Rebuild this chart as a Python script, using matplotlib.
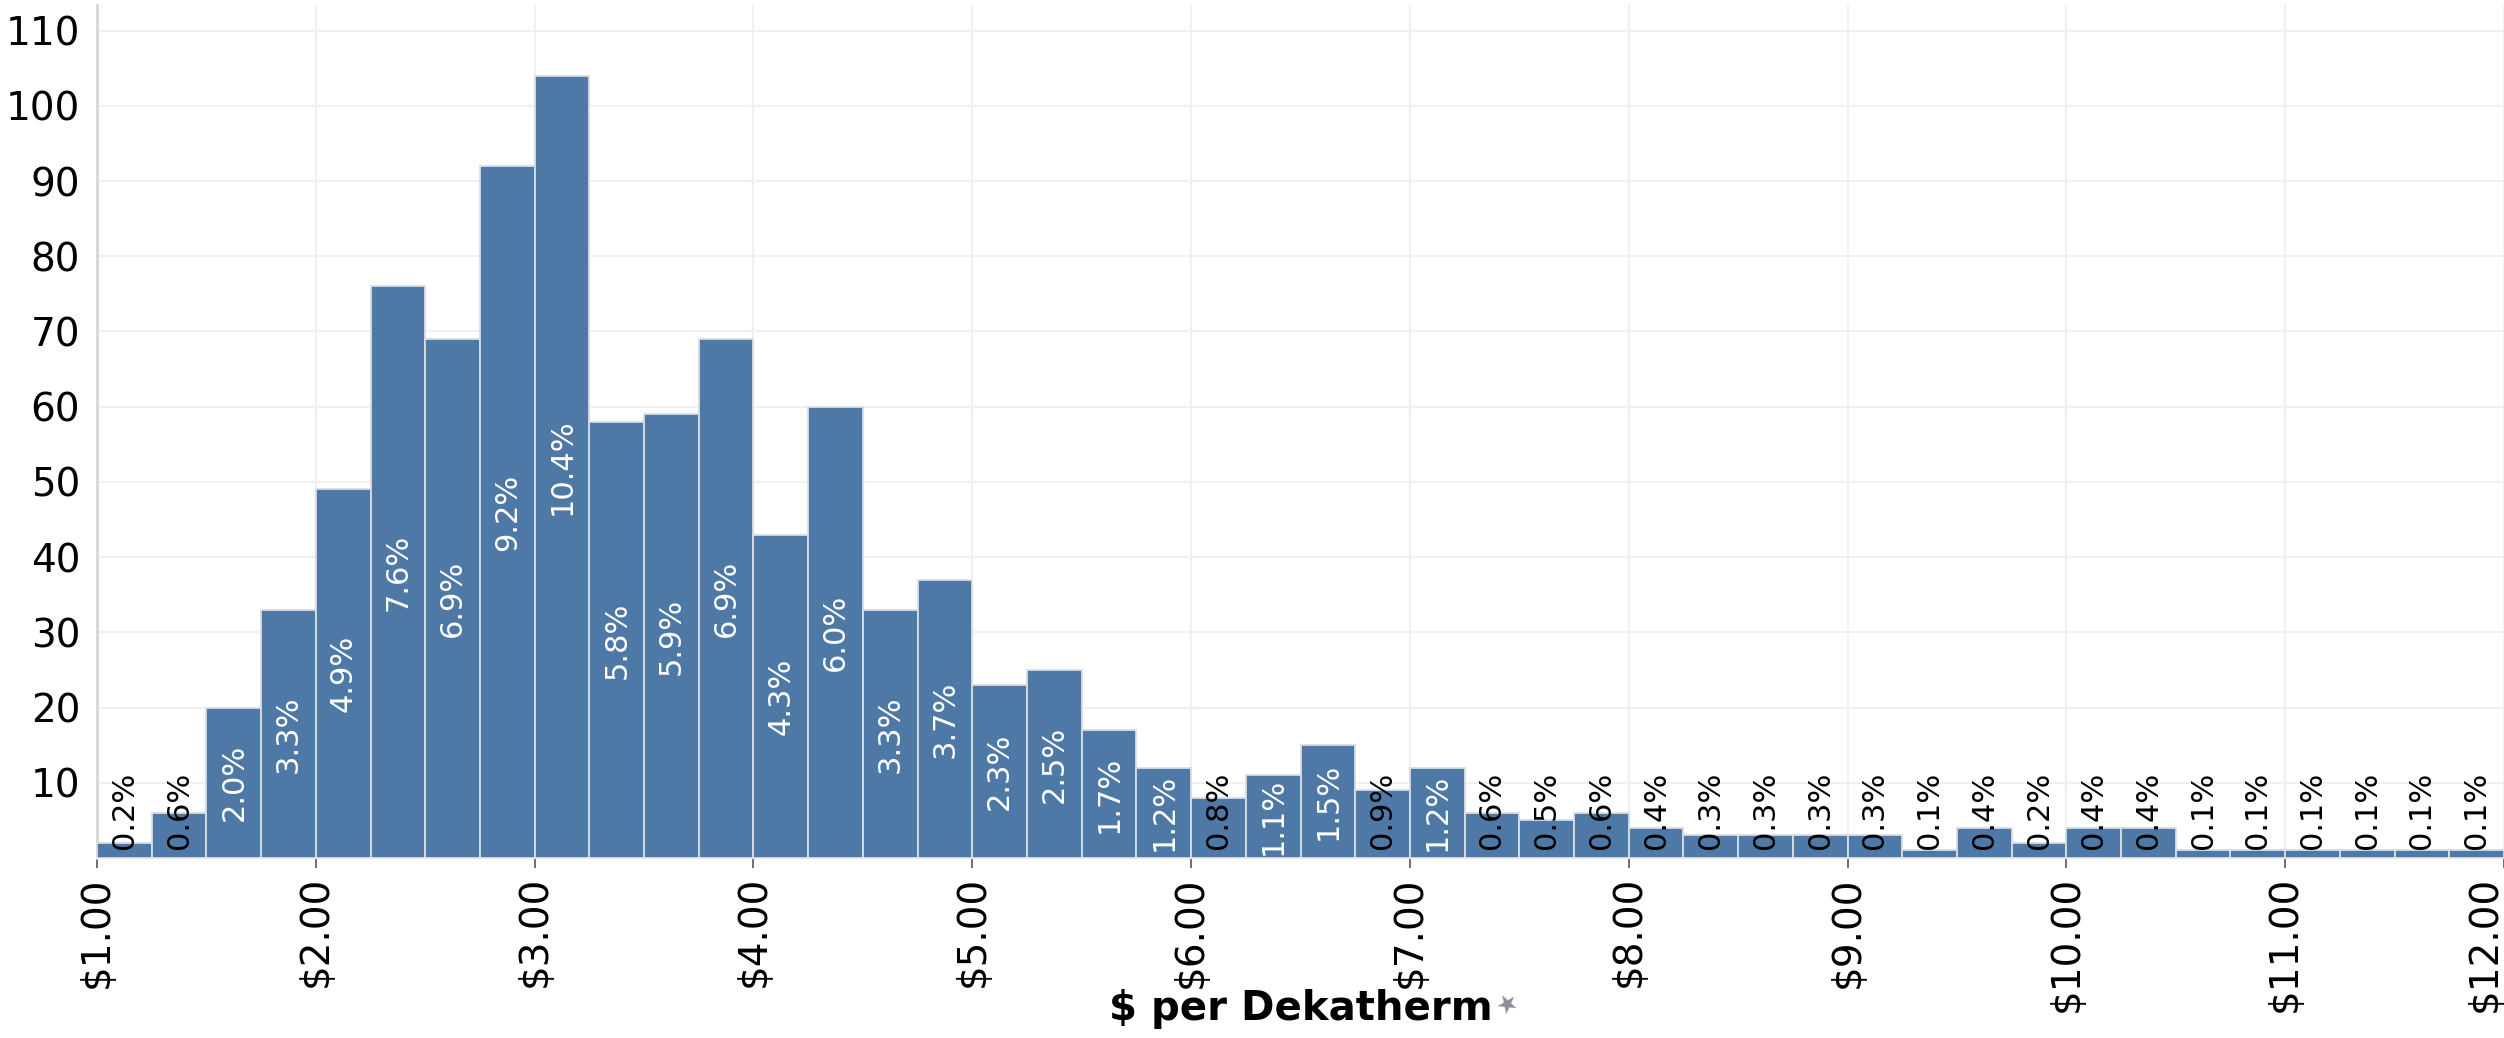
import matplotlib
matplotlib.use("Agg")
import matplotlib.pyplot as plt

# ---- data ----
bin_starts = [1.00, 1.25, 1.50, 1.75, 2.00, 2.25, 2.50, 2.75, 3.00, 3.25, 3.50, 3.75,
              4.00, 4.25, 4.50, 4.75, 5.00, 5.25, 5.50, 5.75, 6.00, 6.25, 6.50, 6.75,
              7.00, 7.25, 7.50, 7.75, 8.00, 8.25, 8.50, 8.75, 9.00, 9.25, 9.50, 9.75,
              10.00, 10.25, 10.50, 10.75, 11.00, 11.25, 11.50, 11.75]
counts = [2, 6, 20, 33, 49, 76, 69, 92, 104, 58, 59, 69,
          43, 60, 33, 37, 23, 25, 17, 12, 8, 11, 15, 9,
          12, 6, 5, 6, 4, 3, 3, 3, 3, 1, 4, 2,
          4, 4, 1, 1, 1, 1, 1, 1]
pct_labels = ["0.2%", "0.6%", "2.0%", "3.3%", "4.9%", "7.6%", "6.9%", "9.2%", "10.4%", "5.8%", "5.9%", "6.9%",
              "4.3%", "6.0%", "3.3%", "3.7%", "2.3%", "2.5%", "1.7%", "1.2%", "0.8%", "1.1%", "1.5%", "0.9%",
              "1.2%", "0.6%", "0.5%", "0.6%", "0.4%", "0.3%", "0.3%", "0.3%", "0.3%", "0.1%", "0.4%", "0.2%",
              "0.4%", "0.4%", "0.1%", "0.1%", "0.1%", "0.1%", "0.1%", "0.1%"]
bin_width = 0.25
x_ticks = [1, 2, 3, 4, 5, 6, 7, 8, 9, 10, 11, 12]
x_tick_labels = ["$1.00", "$2.00", "$3.00", "$4.00", "$5.00", "$6.00",
                 "$7.00", "$8.00", "$9.00", "$10.00", "$11.00", "$12.00"]
y_ticks = [10, 20, 30, 40, 50, 60, 70, 80, 90, 100, 110]
x_title = "$ per Dekatherm"

# ---- figure ----
W, H = 2504, 1038
fig = plt.figure(figsize=(W / 100, H / 100), dpi=100)
plt.rcParams['font.family'] = ['DejaVu Sans']
left_px, right_px, top_px, base_px = 97, 2504, 5, 858
ax = fig.add_axes([left_px / W, (H - base_px) / H, (right_px - left_px) / W, (base_px - top_px) / H])

bar_color = '#4e79a7'
ax.bar(bin_starts, counts, width=bin_width, align='edge', color=bar_color,
       edgecolor='#d9dde3', linewidth=1.3, zorder=3)

ax.set_xlim(1.0, 12.0)
ax.set_ylim(0, 113.4)

ax.set_axisbelow(True)
ax.set_xticks(x_ticks)
ax.set_xticklabels(x_tick_labels, rotation=90, fontsize=28, va='top', ha='center')
ax.set_yticks(y_ticks)
ax.set_yticklabels([str(v) for v in y_ticks], fontsize=28)
ax.grid(True, color='#f0f0f0', linewidth=1.5, zorder=0)
ax.tick_params(axis='y', length=0, pad=12)
ax.tick_params(axis='x', length=7, width=1.2, color='#555555', pad=6)
last = ax.get_xticklabels()[-1]
last.set_ha('right')

for s in ['top', 'right']:
    ax.spines[s].set_visible(False)
ax.spines['left'].set_color('#d6d6d6')
ax.spines['left'].set_linewidth(2)
ax.spines['bottom'].set_color('#e6e6e6')
ax.spines['bottom'].set_linewidth(1.5)

# percentage labels
for x0, c, lab in zip(bin_starts, counts, pct_labels):
    xc = x0 + bin_width / 2
    if c >= 10:
        ax.text(xc, c / 2, lab, rotation=90, ha='center', va='center',
                color='white', fontsize=22, zorder=4)
    else:
        ax.text(xc, 1.2, lab, rotation=90, ha='center', va='bottom',
                color='black', fontsize=22, zorder=4)

fig.text((left_px + right_px) / 2 / W, 1 - 1009 / H, x_title, ha='center', va='center',
         fontsize=29, fontweight='bold', color='black')
# small grey pin marker after the axis title
fig.text(1508 / W, 1 - 1004 / H, "\u2605", ha='center', va='center',
         fontsize=18, color='#8a8f99', rotation=30)

fig.savefig("out.png", dpi=100)
